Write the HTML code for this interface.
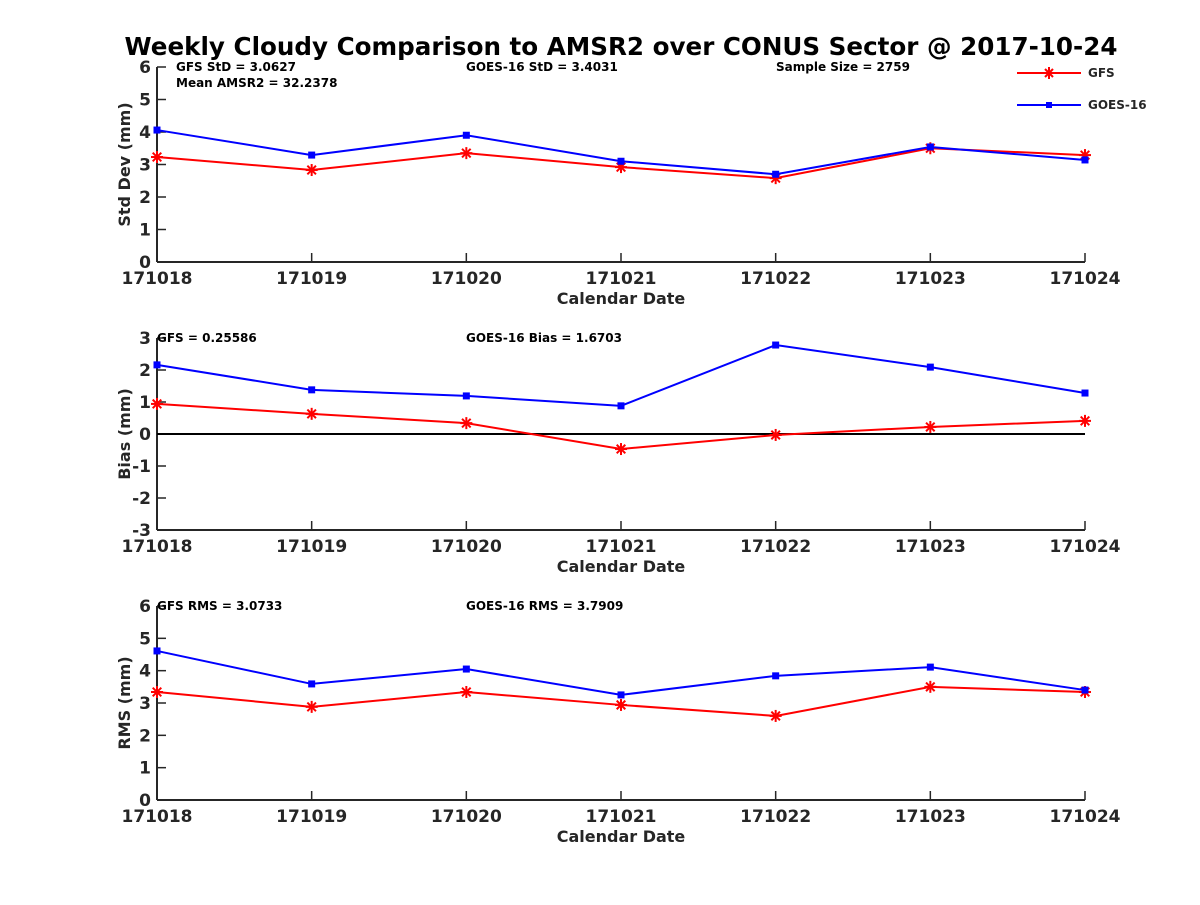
<!DOCTYPE html>
<html><head><meta charset="utf-8"><style>
body{margin:0;background:#fff;}
svg text{font-family:"DejaVu Sans","Liberation Sans",sans-serif;font-weight:bold;fill:#262626;}
</style></head><body>
<svg id="chart" width="1200" height="900" xmlns="http://www.w3.org/2000/svg">
<text x="621" y="55" text-anchor="middle" font-size="24.6" style="fill:#000">Weekly Cloudy Comparison to AMSR2 over CONUS Sector @ 2017-10-24</text>
<g>
<line x1="1017" y1="73" x2="1081" y2="73" stroke="#f00" stroke-width="2"/>
<g stroke="#f00" stroke-width="2"><line x1="1043" y1="73" x2="1055" y2="73"/><line x1="1049" y1="67" x2="1049" y2="79"/><line x1="1045" y1="69" x2="1053" y2="77"/><line x1="1045" y1="77" x2="1053" y2="69"/></g>
<text x="1088" y="77" font-size="12">GFS</text>
<line x1="1017" y1="105" x2="1081" y2="105" stroke="#00f" stroke-width="2"/>
<rect x="1046" y="102" width="6" height="6" fill="#00f"/>
<text x="1088" y="109" font-size="12">GOES-16</text>
</g>
</svg>
<script>
const categories=["171018","171019","171020","171021","171022","171023","171024"];
const stdGFS=[3.23,2.83,3.35,2.92,2.58,3.5,3.29];
const stdGOES=[4.06,3.29,3.9,3.1,2.7,3.54,3.14];
const biasGFS=[0.94,0.63,0.34,-0.47,-0.03,0.22,0.41];
const biasGOES=[2.16,1.38,1.19,0.88,2.78,2.09,1.28];
const rmsGFS=[3.34,2.88,3.34,2.94,2.6,3.5,3.34];
const rmsGOES=[4.61,3.59,4.05,3.25,3.84,4.11,3.4];
const stdTicks=[0,1,2,3,4,5,6];
const biasTicks=[-3,-2,-1,0,1,2,3];
const rmsTicks=[0,1,2,3,4,5,6];
const svg=document.getElementById('chart');
const NS='http://www.w3.org/2000/svg';
function mk(t,a,p){const e=document.createElementNS(NS,t);for(const k in a)e.setAttribute(k,a[k]);(p||svg).appendChild(e);return e;}
const X0=157,X1=1085;
function xs(i){return X0+i*(X1-X0)/(categories.length-1);}
function star(x,y,g){const s=mk('g',{stroke:'#f00','stroke-width':2},g);const r=6,d=4.3;
  mk('line',{x1:x-r,y1:y,x2:x+r,y2:y},s);mk('line',{x1:x,y1:y-r,x2:x,y2:y+r},s);
  mk('line',{x1:x-d,y1:y-d,x2:x+d,y2:y+d},s);mk('line',{x1:x-d,y1:y+d,x2:x+d,y2:y-d},s);}
function panel(name,top,bot,ticks,ylabel,g1,g2,notes,zero){
  const g=mk('g',{});
  
  
  const mn=ticks[0],mx=ticks[ticks.length-1];
  const ys=v=>bot-(v-mn)*(bot-top)/(mx-mn);
  mk('line',{x1:X0,y1:top,x2:X0,y2:bot,stroke:'#262626','stroke-width':2},g);
  mk('line',{x1:X0,y1:bot,x2:X1,y2:bot,stroke:'#262626','stroke-width':2},g);
  ticks.forEach(t=>{const y=ys(t);
    mk('line',{x1:X0,y1:y,x2:X0+9,y2:y,stroke:'#262626','stroke-width':1.5},g);
    const tx=mk('text',{x:X0-6,y:y+6,'text-anchor':'end','font-size':17},g);tx.textContent=t;});
  categories.forEach((c,i)=>{const x=xs(i);
    mk('line',{x1:x,y1:bot,x2:x,y2:bot-9,stroke:'#262626','stroke-width':1.5},g);
    const tx=mk('text',{x:x,y:bot+22,'text-anchor':'middle','font-size':17},g);tx.textContent=c;});
  const xl=mk('text',{x:(X0+X1)/2,y:bot+42,'text-anchor':'middle','font-size':16},g);xl.textContent='Calendar Date';
  
  const cy=(top+bot)/2;
  const yl=mk('text',{x:130,y:cy,'text-anchor':'middle','font-size':16,transform:`rotate(-90 130 ${cy})`},g);yl.textContent=ylabel;
  
  if(zero){mk('line',{x1:X0,y1:ys(0),x2:X1,y2:ys(0),stroke:'#000','stroke-width':2},g);}
  notes.forEach(n=>{const t=mk('text',{x:n[0],y:n[1],'font-size':12},g);t.textContent=n[2];t.style.fill='#000';});
  const pts1=g1.map((v,i)=>xs(i)+','+ys(v)).join(' ');
  const l1=mk('polyline',{points:pts1,fill:'none',stroke:'#f00','stroke-width':2},g);
  
  g1.forEach((v,i)=>star(xs(i),ys(v),g));
  const pts2=g2.map((v,i)=>xs(i)+','+ys(v)).join(' ');
  const l2=mk('polyline',{points:pts2,fill:'none',stroke:'#00f','stroke-width':2},g);
  
  g2.forEach((v,i)=>{mk('rect',{x:xs(i)-3.5,y:ys(v)-3.5,width:7,height:7,fill:'#00f'},g);});
}
panel('std',67,262,stdTicks,'Std Dev (mm)',stdGFS,stdGOES,[[176,71,'GFS StD = 3.0627'],[176,87,'Mean AMSR2 = 32.2378'],[466,71,'GOES-16 StD = 3.4031'],[776,71,'Sample Size = 2759']],false);
panel('bias',338,530,biasTicks,'Bias (mm)',biasGFS,biasGOES,[[157,342,'GFS = 0.25586'],[466,342,'GOES-16 Bias  = 1.6703']],true);
panel('rms',606,800,rmsTicks,'RMS (mm)',rmsGFS,rmsGOES,[[157,610,'GFS RMS = 3.0733'],[466,610,'GOES-16 RMS = 3.7909']],false);
</script>
</body></html>
